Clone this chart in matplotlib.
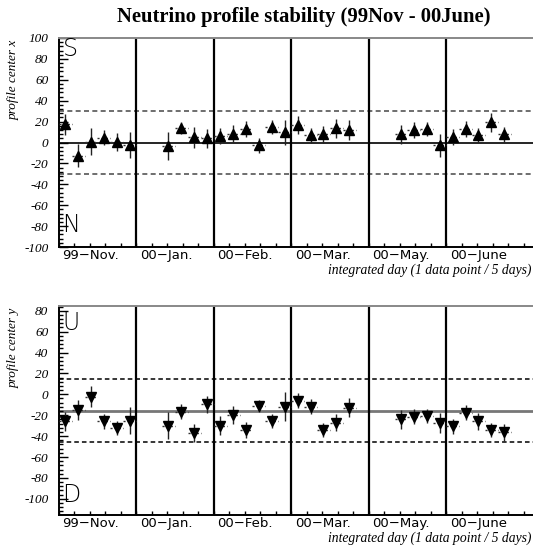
import numpy as np
import matplotlib.pyplot as plt
from matplotlib.ticker import MultipleLocator

nan = np.nan

# month sections (30 days each, 6 bins of 5 days)
months = ['99\u2212Nov.', '00\u2212Jan.', '00\u2212Feb.', '00\u2212Mar.', '00\u2212May.', '00\u2212June']
days_per_month = 30
bin_days = 5

# profile center x, one value per 5-day bin (nan = no data)
center_x = [17.6, -12.8, 0.6, 4.5, 0.6, -2.5,
            nan, nan, -3.2, 13.7, 5.0, 4.0,
            6.0, 8.6, 13.0, -2.6, 14.7, 10.0,
            17.0, 7.0, 8.0, 13.4, 12.0, nan,
            nan, nan, 8.0, 12.0, 13.0, -2.6,
            5.4, 12.8, 7.0, 19.5, 7.7, nan]
err_x = [10, 11, 13, 7, 8.5, 12.5,
         nan, nan, 13.5, 6, 10, 9,
         7.5, 8.5, 8, 7, 7, 12,
         8.5, 7, 8, 9, 10, nan,
         nan, nan, 9, 8, 7, 11,
         7.5, 7.5, 6.5, 9, 7, nan]

# profile center y
center_y = [-26.0, -15.0, -2.2, -26.0, -32.4, -25.4,
            nan, nan, -30.0, -16.5, -37.0, -9.5,
            -30.0, -19.7, -34.0, -11.0, -25.4, -11.7,
            -6.0, -11.7, -34.0, -27.0, -12.7, nan,
            nan, nan, -23.8, -21.3, -20.6, -27.6,
            -30.8, -17.5, -26.0, -34.0, -36.5, nan]
err_y = [9, 10, 10, 7.5, 7, 13,
         nan, nan, 13, 7, 8.5, 8,
         9, 8.5, 7.5, 5.5, 6.5, 13.5,
         7.5, 7, 7, 8.5, 9, nan,
         nan, nan, 9, 7, 7, 9.5,
         7.5, 7, 8, 7, 8.5, nan]

# reference lines: center and +-30 band
ref_x = 0.0
ref_y = -15.5
band = 30

plt.rcParams['font.family'] = 'Liberation Serif'
plt.rcParams['font.style'] = 'italic'
plt.rcParams['axes.unicode_minus'] = False

fig = plt.figure(figsize=(5.33, 5.46), dpi=100)
ax1 = fig.add_axes([58.7/533, 299/546, 474.3/533, 209/546])
ax2 = fig.add_axes([58.7/533, 31/546, 474.3/533, 209/546])

days = np.arange(len(center_x)) * bin_days + bin_days / 2
n_days = days_per_month * len(months)


def panel(ax, vals, errs, ref, marker, ylim, label, letters, center_style, band_style):
    ax.set_xlim(0, 183.6)
    ax.set_ylim(*ylim)
    ax.axhline(ref, **center_style, zorder=1)
    ax.axhline(ref + band, ls=(0, (3, 2)), **band_style, zorder=1)
    ax.axhline(ref - band, ls=(0, (3, 2)), **band_style, zorder=1)
    for d in range(days_per_month, n_days, days_per_month):
        ax.axvline(d, color='black', lw=1.6, zorder=2)
    eb = ax.errorbar(days, vals, yerr=errs, xerr=bin_days / 2, fmt=marker,
                     color='black', ms=6.5, ecolor='#222222', elinewidth=1.0,
                     capsize=0, zorder=3)
    eb.lines[2][0].set_linestyle((0, (1.5, 1.5)))
    eb.lines[2][0].set_color('#333333')

    for s in ['left', 'bottom']:
        ax.spines[s].set_linewidth(1.4)
    ax.spines['top'].set_color('#888888')
    ax.spines['top'].set_linewidth(1.4)
    ax.spines['right'].set_visible(False)

    ax.yaxis.set_major_locator(MultipleLocator(20))
    ax.yaxis.set_minor_locator(MultipleLocator(4))
    ax.xaxis.set_major_locator(MultipleLocator(6))
    ax.tick_params(axis='y', which='major', direction='in', length=6.5, width=1,
                   pad=7.5, labelsize=9.5)
    ax.tick_params(axis='y', which='minor', direction='in', length=3.2, width=1)
    ax.tick_params(axis='x', direction='in', length=2.8, width=1, labelbottom=False)

    for i, m in enumerate(months):
        ax.annotate(m, xy=(i * days_per_month, 0), xycoords=('data', 'axes fraction'),
                    xytext=(2.6, -1.5), textcoords='offset points', ha='left', va='top',
                    fontsize=9.5, family='DejaVu Sans', style='normal')
    ax.annotate('integrated day (1 data point / 5 days)', xy=(1, 0), xycoords='axes fraction',
                xytext=(-1, -16.5), textcoords='offset points', ha='right', va='center',
                fontsize=9.8)
    ax.annotate(label, xy=(0, 1), xycoords='axes fraction', xytext=(-32, -1),
                textcoords='offset points', ha='center', va='top', rotation=90,
                fontsize=9.5)
    for txt, yv in letters:
        ax.text(1.5, yv, txt, ha='left', va='center', fontsize=17,
                family='DejaVu Sans', style='normal', fontweight=200)


panel(ax1, center_x, err_x, ref_x, '^', (-100, 100), 'profile center x',
      [('S', 89), ('N', -79)],
      dict(color='black', lw=1.2), dict(color='#555555', lw=1.2))
panel(ax2, center_y, err_y, ref_y, 'v', (-115.5, 84.5), 'profile center y',
      [('U', 68), ('D', -96)],
      dict(color='#777777', lw=2.0), dict(color='black', lw=1.1))

fig.text(304 / 533, 1 - 17 / 546, 'Neutrino profile stability (99Nov - 00June)',
         ha='center', va='center', fontsize=14.9, fontweight='bold', style='normal')

fig.savefig('out.png', dpi=100)
